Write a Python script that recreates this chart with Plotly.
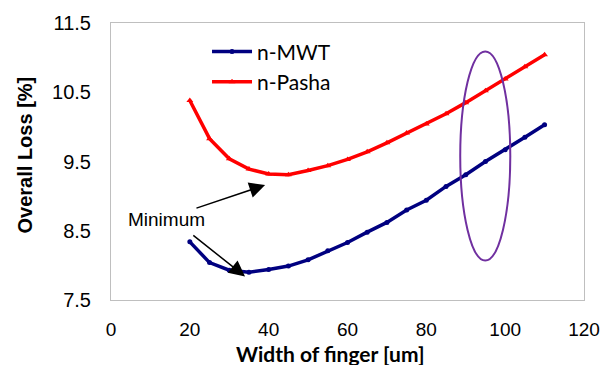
import plotly.graph_objects as go

width_um = [20, 25, 30, 35, 40, 45, 50, 55, 60, 65, 70, 75, 80, 85, 90, 95, 100, 105, 110]
n_mwt = [8.34, 8.04, 7.93, 7.90, 7.94, 7.99, 8.08, 8.21, 8.33, 8.48, 8.62, 8.80, 8.94, 9.14, 9.31, 9.50, 9.67, 9.85, 10.03]
n_pasha = [10.38, 9.83, 9.54, 9.39, 9.32, 9.31, 9.37, 9.44, 9.53, 9.64, 9.77, 9.91, 10.04, 10.19, 10.35, 10.52, 10.69, 10.87, 11.04]

x_ticks = [0, 20, 40, 60, 80, 100, 120]
y_ticks = [7.5, 8.5, 9.5, 10.5, 11.5]

fig = go.Figure()
fig.add_trace(go.Scatter(x=width_um, y=n_mwt, name="n-MWT", mode="lines+markers",
                         line=dict(color="#000080", width=3.5),
                         marker=dict(symbol="circle", size=5, color="#000080")))
fig.add_trace(go.Scatter(x=width_um, y=n_pasha, name="n-Pasha", mode="lines+markers",
                         line=dict(color="#FF0000", width=3.5),
                         marker=dict(symbol="triangle-up", size=6, color="#FF0000")))

# ellipse highlight
fig.add_shape(type="circle", xref="x", yref="y", x0=88.6, x1=101.3, y0=8.07, y1=11.09,
              line=dict(color="#7030A0", width=2))

arrow_common = dict(xref="x", yref="y", axref="x", ayref="y", showarrow=True,
                    arrowhead=2, arrowsize=2.1, arrowwidth=1.5, arrowcolor="black", text="")
fig.add_annotation(x=39.1, y=9.16, ax=21.3, ay=8.82, **arrow_common)
fig.add_annotation(x=34.0, y=7.84, ax=20.5, ay=8.45, **arrow_common)
fig.add_annotation(x=14.2, y=8.66, xref="x", yref="y", text="Minimum", showarrow=False,
                   font=dict(family="Liberation Sans, Arial", size=19, color="black"))

# axis titles (placed as in the reference)
fig.add_annotation(x=0.465, y=-0.193, xref="paper", yref="paper", showarrow=False,
                   text="<b>Width of finger [um]</b>", xanchor="center", yanchor="middle",
                   font=dict(family="Lato, Carlito, Arial", size=21, color="black"))
fig.add_annotation(x=-0.182, y=0.525, xref="paper", yref="paper", showarrow=False,
                   text="<b>Overall Loss [%]</b>", textangle=-90, xanchor="center", yanchor="middle",
                   font=dict(family="Liberation Sans, Arial", size=20, color="black"))

fig.update_layout(
    width=615, height=365,
    margin=dict(l=111, r=31, t=18, b=65),
    paper_bgcolor="white", plot_bgcolor="white",
    showlegend=True,
    legend=dict(x=0.203, y=0.97, xanchor="left", yanchor="top",
                bgcolor="rgba(0,0,0,0)", font=dict(family="Lato, Carlito, Arial", size=21, color="black"),
                tracegroupgap=0, itemwidth=40),
    xaxis=dict(range=[0, 120], tickvals=x_ticks, showgrid=False, zeroline=False,
               showline=True, mirror=True, linecolor="#BFBFBF", linewidth=1,
               ticks="", ticklabelstandoff=12,
               tickfont=dict(family="Liberation Sans, Arial", size=19, color="black")),
    yaxis=dict(range=[7.5, 11.5], tickvals=y_ticks, showgrid=False, zeroline=False,
               showline=True, mirror=True, linecolor="#BFBFBF", linewidth=1,
               ticks="", ticklabelstandoff=15,
               tickfont=dict(family="Liberation Sans, Arial", size=20, color="black")),
)

fig.write_html("out.html")
